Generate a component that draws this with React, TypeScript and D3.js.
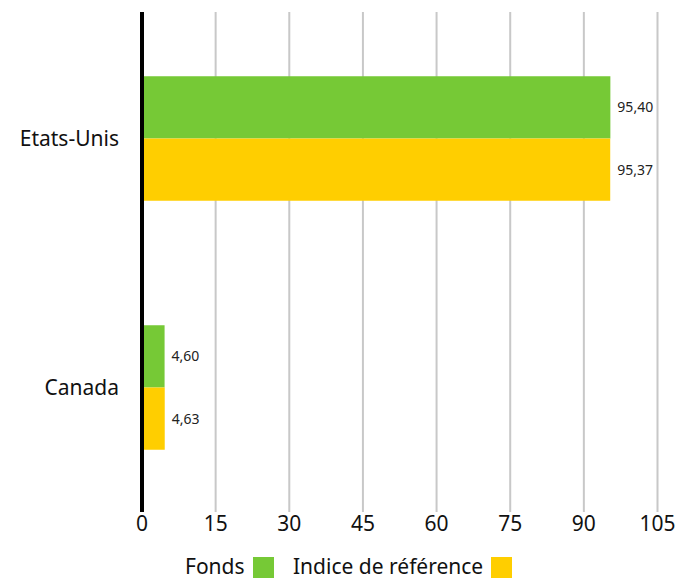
import * as d3 from "d3";

const categories = ["Etats-Unis", "Canada"];
const series = ["Fonds", "Indice de référence"];
const fondsValues = [95.4, 4.6];
const indiceValues = [95.37, 4.63];
const xTicks = [0, 15, 30, 45, 60, 75, 90, 105];
const colors = ["#76c936", "#ffce00"];

const width = 678;
const height = 581;
const font = "'Noto Sans', sans-serif";

const App = () => {
  const x = d3.scaleLinear().domain([0, 105]).range([142, 657.5]);
  const y = d3
    .scaleBand()
    .domain(categories)
    .range([14, 512])
    .paddingInner(0.5)
    .paddingOuter(0.25);
  const sub = d3.scaleBand().domain(series).range([0, y.bandwidth()]);
  const values = [fondsValues, indiceValues];
  const fmt = (v: number) => d3.format(".2f")(v).replace(".", ",");

  return (
    <svg
      width={width}
      height={height}
      style={{ position: "absolute", left: 0, top: 0, fontFamily: font }}
    >
      {/* grid */}
      {xTicks.slice(1).map((t) => (
        <line
          key={t}
          x1={x(t)}
          x2={x(t)}
          y1={12}
          y2={512}
          stroke="#c8c8c8"
          strokeWidth={2}
        />
      ))}

      {/* bars */}
      {categories.map((c, i) => (
        <g key={c} transform={`translate(0,${y(c)})`}>
          {series.map((s, j) => (
            <g key={s}>
              <rect
                x={x(0)}
                y={sub(s)}
                width={x(values[j][i]) - x(0)}
                height={sub.bandwidth()}
                fill={colors[j]}
              />
              <text
                x={x(values[j][i]) + 7}
                y={sub(s)! + sub.bandwidth() / 2}
                dy="0.35em"
                fontSize={14}
                fill="#222"
              >
                {fmt(values[j][i])}
              </text>
            </g>
          ))}
          <text
            x={119}
            y={y.bandwidth() / 2}
            dy="0.35em"
            textAnchor="end"
            fontSize={21}
            fill="#111"
          >
            {c}
          </text>
        </g>
      ))}

      {/* axis line */}
      <line x1={x(0)} x2={x(0)} y1={12} y2={512} stroke="#000" strokeWidth={4} />

      {/* tick labels */}
      {xTicks.map((t) => (
        <text
          key={t}
          x={x(t)}
          y={524}
          dy="0.35em"
          textAnchor="middle"
          fontSize={21}
          fill="#111"
        >
          {t}
        </text>
      ))}

      {/* legend */}
      <text x={185} y={574} fontSize={21} fill="#111">
        {series[0]}
      </text>
      <rect x={253} y={557} width={21} height={21} fill={colors[0]} />
      <text x={293} y={574} fontSize={21} fill="#111">
        {series[1]}
      </text>
      <rect x={491} y={557} width={21} height={21} fill={colors[1]} />
    </svg>
  );
};

export default App;
